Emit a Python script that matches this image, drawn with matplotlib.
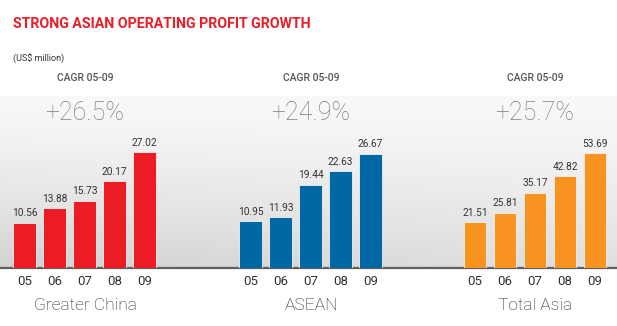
import matplotlib
matplotlib.use("Agg")
import matplotlib.pyplot as plt
import numpy as np

# data
years = ["05", "06", "07", "08", "09"]
groups = ["Greater China", "ASEAN", "Total Asia"]
greater_china = [10.56, 13.88, 15.73, 20.17, 27.02]
asean = [10.95, 11.93, 19.44, 22.63, 26.67]
total_asia = [21.51, 25.81, 35.17, 42.82, 53.69]
cagr = ["+26.5%", "+24.9%", "+25.7%"]
colors = ["#ec1c24", "#0068a5", "#f7931e"]

W, H = 617, 326
plt.rcParams['font.family'] = ['Roboto', 'DejaVu Sans']

fig = plt.figure(figsize=(W / 100, H / 100), dpi=100)

# background with grey gradient, pixel coordinates
bg = fig.add_axes([0, 0, 1, 1])
bg.set_xlim(0, W)
bg.set_ylim(H, 0)
bg.axis("off")
yy, xx = np.mgrid[0:1:200j, 0:1:300j]
shade = 0.975 - 0.15 * yy ** 1.3 * (1 - 0.35 * xx)
bg.imshow(np.dstack([shade] * 3), extent=(0, W, 268, 96), aspect="auto", zorder=0)
bg.plot([0, W], [268, 268], color="#5f5f5f", lw=1.6, zorder=2, solid_capstyle="butt")

bg.text(13, 28, "STRONG ASIAN OPERATING PROFIT GROWTH", color="#e8202a",
        fontsize=10.2, fontweight="bold", ha="left", va="baseline")
bg.text(13, 62, "(US$ million)", color="#333333", fontsize=6.5, ha="left", va="baseline")

# one axes per group
lefts = [9.5, 235.5, 460]
ymax = [48.5, 48.5, 97]
centers = [85, 311, 535]
series = [greater_china, asean, total_asia]
for i in range(3):
    ax = fig.add_axes([lefts[i] / W, (H - 268) / H, 150 / W, 208 / H])
    ax.patch.set_alpha(0)
    x = np.arange(len(years))
    bars = ax.bar(x, series[i], width=0.74, color=colors[i], edgecolor="#f2f2f2", linewidth=0.6)
    for b, v in zip(bars, series[i]):
        ax.text(b.get_x() + b.get_width() / 2, v + 1.0 * ymax[i] / 48.5, f"{v:.2f}",
                ha="center", va="bottom", fontsize=7.3, color="#333333")
    ax.set_xlim(-0.5, 4.5)
    ax.set_ylim(0, ymax[i])
    ax.set_xticks(x)
    ax.set_xticklabels(years, fontsize=9.5, color="#333333")
    ax.tick_params(axis="x", length=0, pad=5)
    ax.set_yticks([])
    for s in ax.spines.values():
        s.set_visible(False)

    bg.text(centers[i], 81, "CAGR 05-09", color="#555555", fontsize=7.5,
            fontweight="medium", ha="center", va="baseline")
    bg.text(centers[i], 120, cagr[i], color="#7f7f7f", fontsize=18,
            fontweight="light", ha="center", va="baseline")
    bg.text(centers[i], 310, groups[i], color="#222222", fontsize=12.5,
            fontweight="light", ha="center", va="baseline")

fig.savefig("out.png", dpi=100)
